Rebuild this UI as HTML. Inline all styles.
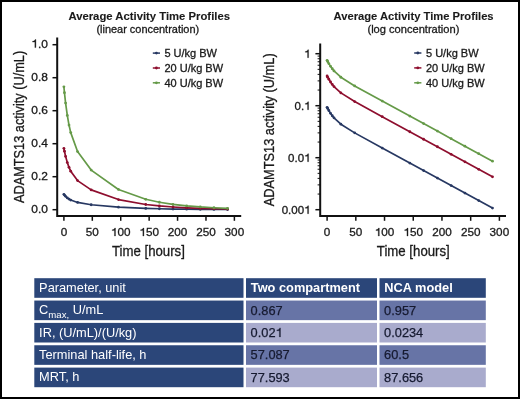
<!DOCTYPE html>
<html><head><meta charset="utf-8"><style>
html,body{margin:0;padding:0;width:520px;height:399px;overflow:hidden;background:#fff}
svg text{font-family:"Liberation Sans", sans-serif}
svg{will-change:transform}
</style></head><body>
<svg width="520" height="399" viewBox="0 0 520 399" style="position:absolute;left:0;top:0">
<rect x="0" y="0" width="520" height="399" fill="#000"/>
<rect x="2" y="2" width="516" height="395" fill="#fff"/>
<text x="149.20" y="19.70" font-size="11.3" text-anchor="middle" font-weight="bold" fill="#1a1a1a" stroke="#1a1a1a" stroke-width="0.1" >Average Activity Time Profiles</text>
<text x="147.80" y="33.40" font-size="10.95" text-anchor="middle" font-weight="normal" fill="#1a1a1a" stroke="#1a1a1a" stroke-width="0.3" >(linear concentration)</text>
<text x="413.60" y="19.70" font-size="11.2" text-anchor="middle" font-weight="bold" fill="#1a1a1a" stroke="#1a1a1a" stroke-width="0.1" >Average Activity Time Profiles</text>
<text x="413.40" y="33.40" font-size="11.1" text-anchor="middle" font-weight="normal" fill="#1a1a1a" stroke="#1a1a1a" stroke-width="0.3" >(log concentration)</text>
<path d="M57.2,37.4 V216.1 M56.2,216.1 H241.2" stroke="#111" stroke-width="2" fill="none"/>
<path d="M52.5,209.70 H57" stroke="#111" stroke-width="1.5"/>
<g transform="translate(47.90,212.60) scale(1.04,1)">
<text x="-15.99" y="0.00" font-size="11.5" text-anchor="start" font-weight="normal" fill="#1a1a1a" stroke="#1a1a1a" stroke-width="0.3" >0.0</text>
</g>
<path d="M52.5,176.70 H57" stroke="#111" stroke-width="1.5"/>
<g transform="translate(47.90,179.60) scale(1.04,1)">
<text x="-15.99" y="0.00" font-size="11.5" text-anchor="start" font-weight="normal" fill="#1a1a1a" stroke="#1a1a1a" stroke-width="0.3" >0.2</text>
</g>
<path d="M52.5,143.70 H57" stroke="#111" stroke-width="1.5"/>
<g transform="translate(47.90,146.60) scale(1.04,1)">
<text x="-15.99" y="0.00" font-size="11.5" text-anchor="start" font-weight="normal" fill="#1a1a1a" stroke="#1a1a1a" stroke-width="0.3" >0.4</text>
</g>
<path d="M52.5,110.70 H57" stroke="#111" stroke-width="1.5"/>
<g transform="translate(47.90,113.60) scale(1.04,1)">
<text x="-15.99" y="0.00" font-size="11.5" text-anchor="start" font-weight="normal" fill="#1a1a1a" stroke="#1a1a1a" stroke-width="0.3" >0.6</text>
</g>
<path d="M52.5,77.70 H57" stroke="#111" stroke-width="1.5"/>
<g transform="translate(47.90,80.60) scale(1.04,1)">
<text x="-15.99" y="0.00" font-size="11.5" text-anchor="start" font-weight="normal" fill="#1a1a1a" stroke="#1a1a1a" stroke-width="0.3" >0.8</text>
</g>
<path d="M52.5,44.70 H57" stroke="#111" stroke-width="1.5"/>
<g transform="translate(47.90,47.60) scale(1.04,1)">
<text x="-15.99" y="0.00" font-size="11.5" text-anchor="start" font-weight="normal" fill="#1a1a1a" stroke="#1a1a1a" stroke-width="0.3" > .0</text>
<path d="M-12.54,0.00 L-11.50,0.00 L-11.50,-8.08 L-12.28,-8.08 C-12.46,-7.36 -12.97,-6.46 -14.78,-6.30 L-14.78,-5.52 L-12.54,-5.52 Z" fill="#1a1a1a" stroke="#1a1a1a" stroke-width="0.3"/>
</g>
<path d="M63.90,216.1 V220.8" stroke="#111" stroke-width="1.5"/>
<g transform="translate(63.90,236.00) scale(1.04,1)">
<text x="-3.14" y="0.00" font-size="11.3" text-anchor="start" font-weight="normal" fill="#1a1a1a" stroke="#1a1a1a" stroke-width="0.3" >0</text>
</g>
<path d="M92.31,216.1 V220.8" stroke="#111" stroke-width="1.5"/>
<g transform="translate(92.31,236.00) scale(1.04,1)">
<text x="-6.28" y="0.00" font-size="11.3" text-anchor="start" font-weight="normal" fill="#1a1a1a" stroke="#1a1a1a" stroke-width="0.3" >50</text>
</g>
<path d="M120.73,216.1 V220.8" stroke="#111" stroke-width="1.5"/>
<g transform="translate(120.73,236.00) scale(1.04,1)">
<text x="-9.43" y="0.00" font-size="11.3" text-anchor="start" font-weight="normal" fill="#1a1a1a" stroke="#1a1a1a" stroke-width="0.3" > 00</text>
<path d="M-6.04,0.00 L-5.02,0.00 L-5.02,-7.94 L-5.79,-7.94 C-5.96,-7.23 -6.47,-6.35 -8.24,-6.19 L-8.24,-5.42 L-6.04,-5.42 Z" fill="#1a1a1a" stroke="#1a1a1a" stroke-width="0.3"/>
</g>
<path d="M149.15,216.1 V220.8" stroke="#111" stroke-width="1.5"/>
<g transform="translate(149.15,236.00) scale(1.04,1)">
<text x="-9.43" y="0.00" font-size="11.3" text-anchor="start" font-weight="normal" fill="#1a1a1a" stroke="#1a1a1a" stroke-width="0.3" > 50</text>
<path d="M-6.04,0.00 L-5.02,0.00 L-5.02,-7.94 L-5.79,-7.94 C-5.96,-7.23 -6.47,-6.35 -8.24,-6.19 L-8.24,-5.42 L-6.04,-5.42 Z" fill="#1a1a1a" stroke="#1a1a1a" stroke-width="0.3"/>
</g>
<path d="M177.56,216.1 V220.8" stroke="#111" stroke-width="1.5"/>
<g transform="translate(177.56,236.00) scale(1.04,1)">
<text x="-9.43" y="0.00" font-size="11.3" text-anchor="start" font-weight="normal" fill="#1a1a1a" stroke="#1a1a1a" stroke-width="0.3" >200</text>
</g>
<path d="M205.98,216.1 V220.8" stroke="#111" stroke-width="1.5"/>
<g transform="translate(205.98,236.00) scale(1.04,1)">
<text x="-9.43" y="0.00" font-size="11.3" text-anchor="start" font-weight="normal" fill="#1a1a1a" stroke="#1a1a1a" stroke-width="0.3" >250</text>
</g>
<path d="M234.39,216.1 V220.8" stroke="#111" stroke-width="1.5"/>
<g transform="translate(234.39,236.00) scale(1.04,1)">
<text x="-9.43" y="0.00" font-size="11.3" text-anchor="start" font-weight="normal" fill="#1a1a1a" stroke="#1a1a1a" stroke-width="0.3" >300</text>
</g>
<text x="0.00" y="0.00" font-size="14" text-anchor="middle" font-weight="normal" fill="#1a1a1a" stroke="#1a1a1a" stroke-width="0.3" transform="translate(148.4,255.9) scale(0.945,1)">Time [hours]</text>
<text x="0.00" y="0.00" font-size="14" text-anchor="middle" font-weight="normal" fill="#1a1a1a" stroke="#1a1a1a" stroke-width="0.3" transform="translate(23.5,126.9) rotate(-90) scale(0.91,1)">ADAMTS13 activity (U/mL)</text>
<path d="M320.2,43.4 V216.1 M319.2,216.1 H506" stroke="#111" stroke-width="2" fill="none"/>
<path d="M315.4,53.70 H320.2" stroke="#111" stroke-width="1.5"/>
<g transform="translate(310.50,57.70) scale(1.02,1)">
<text x="-6.28" y="0.00" font-size="11.3" text-anchor="start" font-weight="normal" fill="#1a1a1a" stroke="#1a1a1a" stroke-width="0.3" > </text>
<path d="M-2.89,0.00 L-1.88,0.00 L-1.88,-7.94 L-2.65,-7.94 C-2.82,-7.23 -3.32,-6.35 -5.10,-6.19 L-5.10,-5.42 L-2.89,-5.42 Z" fill="#1a1a1a" stroke="#1a1a1a" stroke-width="0.3"/>
</g>
<path d="M317.6,90.05 H320.2" stroke="#111" stroke-width="1"/>
<path d="M317.6,80.89 H320.2" stroke="#111" stroke-width="1"/>
<path d="M317.6,74.39 H320.2" stroke="#111" stroke-width="1"/>
<path d="M317.6,69.35 H320.2" stroke="#111" stroke-width="1"/>
<path d="M317.6,65.24 H320.2" stroke="#111" stroke-width="1"/>
<path d="M317.6,61.75 H320.2" stroke="#111" stroke-width="1"/>
<path d="M317.6,58.74 H320.2" stroke="#111" stroke-width="1"/>
<path d="M317.6,56.08 H320.2" stroke="#111" stroke-width="1"/>
<path d="M315.4,105.70 H320.2" stroke="#111" stroke-width="1.5"/>
<g transform="translate(310.50,109.70) scale(1.02,1)">
<text x="-15.71" y="0.00" font-size="11.3" text-anchor="start" font-weight="normal" fill="#1a1a1a" stroke="#1a1a1a" stroke-width="0.3" >0. </text>
<path d="M-2.89,0.00 L-1.88,0.00 L-1.88,-7.94 L-2.65,-7.94 C-2.82,-7.23 -3.32,-6.35 -5.10,-6.19 L-5.10,-5.42 L-2.89,-5.42 Z" fill="#1a1a1a" stroke="#1a1a1a" stroke-width="0.3"/>
</g>
<path d="M317.6,142.05 H320.2" stroke="#111" stroke-width="1"/>
<path d="M317.6,132.89 H320.2" stroke="#111" stroke-width="1"/>
<path d="M317.6,126.39 H320.2" stroke="#111" stroke-width="1"/>
<path d="M317.6,121.35 H320.2" stroke="#111" stroke-width="1"/>
<path d="M317.6,117.24 H320.2" stroke="#111" stroke-width="1"/>
<path d="M317.6,113.75 H320.2" stroke="#111" stroke-width="1"/>
<path d="M317.6,110.74 H320.2" stroke="#111" stroke-width="1"/>
<path d="M317.6,108.08 H320.2" stroke="#111" stroke-width="1"/>
<path d="M315.4,157.70 H320.2" stroke="#111" stroke-width="1.5"/>
<g transform="translate(310.50,161.70) scale(1.02,1)">
<text x="-21.99" y="0.00" font-size="11.3" text-anchor="start" font-weight="normal" fill="#1a1a1a" stroke="#1a1a1a" stroke-width="0.3" >0.0 </text>
<path d="M-2.89,0.00 L-1.88,0.00 L-1.88,-7.94 L-2.65,-7.94 C-2.82,-7.23 -3.32,-6.35 -5.10,-6.19 L-5.10,-5.42 L-2.89,-5.42 Z" fill="#1a1a1a" stroke="#1a1a1a" stroke-width="0.3"/>
</g>
<path d="M317.6,194.05 H320.2" stroke="#111" stroke-width="1"/>
<path d="M317.6,184.89 H320.2" stroke="#111" stroke-width="1"/>
<path d="M317.6,178.39 H320.2" stroke="#111" stroke-width="1"/>
<path d="M317.6,173.35 H320.2" stroke="#111" stroke-width="1"/>
<path d="M317.6,169.24 H320.2" stroke="#111" stroke-width="1"/>
<path d="M317.6,165.75 H320.2" stroke="#111" stroke-width="1"/>
<path d="M317.6,162.74 H320.2" stroke="#111" stroke-width="1"/>
<path d="M317.6,160.08 H320.2" stroke="#111" stroke-width="1"/>
<path d="M315.4,209.70 H320.2" stroke="#111" stroke-width="1.5"/>
<g transform="translate(310.50,213.70) scale(1.02,1)">
<text x="-28.28" y="0.00" font-size="11.3" text-anchor="start" font-weight="normal" fill="#1a1a1a" stroke="#1a1a1a" stroke-width="0.3" >0.00 </text>
<path d="M-2.89,0.00 L-1.88,0.00 L-1.88,-7.94 L-2.65,-7.94 C-2.82,-7.23 -3.32,-6.35 -5.10,-6.19 L-5.10,-5.42 L-2.89,-5.42 Z" fill="#1a1a1a" stroke="#1a1a1a" stroke-width="0.3"/>
</g>
<path d="M327.10,216.1 V220.8" stroke="#111" stroke-width="1.5"/>
<g transform="translate(327.10,236.00) scale(1.04,1)">
<text x="-3.14" y="0.00" font-size="11.3" text-anchor="start" font-weight="normal" fill="#1a1a1a" stroke="#1a1a1a" stroke-width="0.3" >0</text>
</g>
<path d="M355.82,216.1 V220.8" stroke="#111" stroke-width="1.5"/>
<g transform="translate(355.82,236.00) scale(1.04,1)">
<text x="-6.28" y="0.00" font-size="11.3" text-anchor="start" font-weight="normal" fill="#1a1a1a" stroke="#1a1a1a" stroke-width="0.3" >50</text>
</g>
<path d="M384.53,216.1 V220.8" stroke="#111" stroke-width="1.5"/>
<g transform="translate(384.53,236.00) scale(1.04,1)">
<text x="-9.43" y="0.00" font-size="11.3" text-anchor="start" font-weight="normal" fill="#1a1a1a" stroke="#1a1a1a" stroke-width="0.3" > 00</text>
<path d="M-6.04,0.00 L-5.02,0.00 L-5.02,-7.94 L-5.79,-7.94 C-5.96,-7.23 -6.47,-6.35 -8.24,-6.19 L-8.24,-5.42 L-6.04,-5.42 Z" fill="#1a1a1a" stroke="#1a1a1a" stroke-width="0.3"/>
</g>
<path d="M413.25,216.1 V220.8" stroke="#111" stroke-width="1.5"/>
<g transform="translate(413.25,236.00) scale(1.04,1)">
<text x="-9.43" y="0.00" font-size="11.3" text-anchor="start" font-weight="normal" fill="#1a1a1a" stroke="#1a1a1a" stroke-width="0.3" > 50</text>
<path d="M-6.04,0.00 L-5.02,0.00 L-5.02,-7.94 L-5.79,-7.94 C-5.96,-7.23 -6.47,-6.35 -8.24,-6.19 L-8.24,-5.42 L-6.04,-5.42 Z" fill="#1a1a1a" stroke="#1a1a1a" stroke-width="0.3"/>
</g>
<path d="M441.96,216.1 V220.8" stroke="#111" stroke-width="1.5"/>
<g transform="translate(441.96,236.00) scale(1.04,1)">
<text x="-9.43" y="0.00" font-size="11.3" text-anchor="start" font-weight="normal" fill="#1a1a1a" stroke="#1a1a1a" stroke-width="0.3" >200</text>
</g>
<path d="M470.68,216.1 V220.8" stroke="#111" stroke-width="1.5"/>
<g transform="translate(470.68,236.00) scale(1.04,1)">
<text x="-9.43" y="0.00" font-size="11.3" text-anchor="start" font-weight="normal" fill="#1a1a1a" stroke="#1a1a1a" stroke-width="0.3" >250</text>
</g>
<path d="M499.39,216.1 V220.8" stroke="#111" stroke-width="1.5"/>
<g transform="translate(499.39,236.00) scale(1.04,1)">
<text x="-9.43" y="0.00" font-size="11.3" text-anchor="start" font-weight="normal" fill="#1a1a1a" stroke="#1a1a1a" stroke-width="0.3" >300</text>
</g>
<text x="0.00" y="0.00" font-size="14" text-anchor="middle" font-weight="normal" fill="#1a1a1a" stroke="#1a1a1a" stroke-width="0.3" transform="translate(413.3,255.9) scale(0.945,1)">Time [hours]</text>
<text x="0.00" y="0.00" font-size="14" text-anchor="middle" font-weight="normal" fill="#1a1a1a" stroke="#1a1a1a" stroke-width="0.3" transform="translate(274.1,129.8) rotate(-90) scale(0.915,1)">ADAMTS13 activity (U/mL)</text>
<polyline points="63.90,194.35 64.47,195.08 65.60,196.37 67.31,197.92 69.01,199.12 70.72,200.06 77.54,202.43 91.18,204.75 118.46,207.17 145.74,208.40 159.37,208.77 173.01,209.03 186.65,209.22 200.29,209.36 213.93,209.45 227.57,209.52" fill="none" stroke="#273862" stroke-width="1.7" stroke-linejoin="round"/>
<circle cx="63.90" cy="194.35" r="1.4" fill="#273862"/>
<circle cx="64.47" cy="195.08" r="1.4" fill="#273862"/>
<circle cx="65.60" cy="196.37" r="1.4" fill="#273862"/>
<circle cx="67.31" cy="197.92" r="1.4" fill="#273862"/>
<circle cx="69.01" cy="199.12" r="1.4" fill="#273862"/>
<circle cx="70.72" cy="200.06" r="1.4" fill="#273862"/>
<circle cx="77.54" cy="202.43" r="1.4" fill="#273862"/>
<circle cx="91.18" cy="204.75" r="1.4" fill="#273862"/>
<circle cx="118.46" cy="207.17" r="1.4" fill="#273862"/>
<circle cx="145.74" cy="208.40" r="1.4" fill="#273862"/>
<circle cx="159.37" cy="208.77" r="1.4" fill="#273862"/>
<circle cx="173.01" cy="209.03" r="1.4" fill="#273862"/>
<circle cx="186.65" cy="209.22" r="1.4" fill="#273862"/>
<circle cx="200.29" cy="209.36" r="1.4" fill="#273862"/>
<circle cx="213.93" cy="209.45" r="1.4" fill="#273862"/>
<circle cx="227.57" cy="209.52" r="1.4" fill="#273862"/>
<polyline points="327.10,107.32 327.67,108.44 328.82,110.52 330.55,113.30 332.27,115.73 333.99,117.85 340.88,124.21 354.67,132.87 382.23,148.03 409.80,163.05 423.58,170.56 437.37,178.08 451.15,185.59 464.93,193.10 478.72,200.61 492.50,208.12" fill="none" stroke="#273862" stroke-width="1.7" stroke-linejoin="round"/>
<circle cx="327.10" cy="107.32" r="1.4" fill="#273862"/>
<circle cx="327.67" cy="108.44" r="1.4" fill="#273862"/>
<circle cx="328.82" cy="110.52" r="1.4" fill="#273862"/>
<circle cx="330.55" cy="113.30" r="1.4" fill="#273862"/>
<circle cx="332.27" cy="115.73" r="1.4" fill="#273862"/>
<circle cx="333.99" cy="117.85" r="1.4" fill="#273862"/>
<circle cx="340.88" cy="124.21" r="1.4" fill="#273862"/>
<circle cx="354.67" cy="132.87" r="1.4" fill="#273862"/>
<circle cx="382.23" cy="148.03" r="1.4" fill="#273862"/>
<circle cx="409.80" cy="163.05" r="1.4" fill="#273862"/>
<circle cx="423.58" cy="170.56" r="1.4" fill="#273862"/>
<circle cx="437.37" cy="178.08" r="1.4" fill="#273862"/>
<circle cx="451.15" cy="185.59" r="1.4" fill="#273862"/>
<circle cx="464.93" cy="193.10" r="1.4" fill="#273862"/>
<circle cx="478.72" cy="200.61" r="1.4" fill="#273862"/>
<circle cx="492.50" cy="208.12" r="1.4" fill="#273862"/>
<polyline points="63.90,148.28 64.47,151.23 65.60,156.38 67.31,162.57 69.01,167.37 70.72,171.15 77.54,180.61 91.18,189.89 118.46,199.57 145.74,204.49 159.37,205.97 173.01,207.02 186.65,207.78 200.29,208.32 213.93,208.71 227.57,208.99" fill="none" stroke="#8e0e2e" stroke-width="1.7" stroke-linejoin="round"/>
<circle cx="63.90" cy="148.28" r="1.4" fill="#8e0e2e"/>
<circle cx="64.47" cy="151.23" r="1.4" fill="#8e0e2e"/>
<circle cx="65.60" cy="156.38" r="1.4" fill="#8e0e2e"/>
<circle cx="67.31" cy="162.57" r="1.4" fill="#8e0e2e"/>
<circle cx="69.01" cy="167.37" r="1.4" fill="#8e0e2e"/>
<circle cx="70.72" cy="171.15" r="1.4" fill="#8e0e2e"/>
<circle cx="77.54" cy="180.61" r="1.4" fill="#8e0e2e"/>
<circle cx="91.18" cy="189.89" r="1.4" fill="#8e0e2e"/>
<circle cx="118.46" cy="199.57" r="1.4" fill="#8e0e2e"/>
<circle cx="145.74" cy="204.49" r="1.4" fill="#8e0e2e"/>
<circle cx="159.37" cy="205.97" r="1.4" fill="#8e0e2e"/>
<circle cx="173.01" cy="207.02" r="1.4" fill="#8e0e2e"/>
<circle cx="186.65" cy="207.78" r="1.4" fill="#8e0e2e"/>
<circle cx="200.29" cy="208.32" r="1.4" fill="#8e0e2e"/>
<circle cx="213.93" cy="208.71" r="1.4" fill="#8e0e2e"/>
<circle cx="227.57" cy="208.99" r="1.4" fill="#8e0e2e"/>
<polyline points="327.10,76.02 327.67,77.13 328.82,79.21 330.55,82.00 332.27,84.42 333.99,86.54 340.88,92.90 354.67,101.57 382.23,116.72 409.80,131.74 423.58,139.26 437.37,146.77 451.15,154.28 464.93,161.79 478.72,169.30 492.50,176.82" fill="none" stroke="#8e0e2e" stroke-width="1.7" stroke-linejoin="round"/>
<circle cx="327.10" cy="76.02" r="1.4" fill="#8e0e2e"/>
<circle cx="327.67" cy="77.13" r="1.4" fill="#8e0e2e"/>
<circle cx="328.82" cy="79.21" r="1.4" fill="#8e0e2e"/>
<circle cx="330.55" cy="82.00" r="1.4" fill="#8e0e2e"/>
<circle cx="332.27" cy="84.42" r="1.4" fill="#8e0e2e"/>
<circle cx="333.99" cy="86.54" r="1.4" fill="#8e0e2e"/>
<circle cx="340.88" cy="92.90" r="1.4" fill="#8e0e2e"/>
<circle cx="354.67" cy="101.57" r="1.4" fill="#8e0e2e"/>
<circle cx="382.23" cy="116.72" r="1.4" fill="#8e0e2e"/>
<circle cx="409.80" cy="131.74" r="1.4" fill="#8e0e2e"/>
<circle cx="423.58" cy="139.26" r="1.4" fill="#8e0e2e"/>
<circle cx="437.37" cy="146.77" r="1.4" fill="#8e0e2e"/>
<circle cx="451.15" cy="154.28" r="1.4" fill="#8e0e2e"/>
<circle cx="464.93" cy="161.79" r="1.4" fill="#8e0e2e"/>
<circle cx="478.72" cy="169.30" r="1.4" fill="#8e0e2e"/>
<circle cx="492.50" cy="176.82" r="1.4" fill="#8e0e2e"/>
<polyline points="63.90,86.86 64.47,92.77 65.60,103.07 67.31,115.44 69.01,125.04 70.72,132.61 77.54,151.53 91.18,170.07 118.46,189.44 145.74,199.28 159.37,202.23 173.01,204.35 186.65,205.86 200.29,206.95 213.93,207.73 227.57,208.28" fill="none" stroke="#659a48" stroke-width="1.7" stroke-linejoin="round"/>
<circle cx="63.90" cy="86.86" r="1.4" fill="#659a48"/>
<circle cx="64.47" cy="92.77" r="1.4" fill="#659a48"/>
<circle cx="65.60" cy="103.07" r="1.4" fill="#659a48"/>
<circle cx="67.31" cy="115.44" r="1.4" fill="#659a48"/>
<circle cx="69.01" cy="125.04" r="1.4" fill="#659a48"/>
<circle cx="70.72" cy="132.61" r="1.4" fill="#659a48"/>
<circle cx="77.54" cy="151.53" r="1.4" fill="#659a48"/>
<circle cx="91.18" cy="170.07" r="1.4" fill="#659a48"/>
<circle cx="118.46" cy="189.44" r="1.4" fill="#659a48"/>
<circle cx="145.74" cy="199.28" r="1.4" fill="#659a48"/>
<circle cx="159.37" cy="202.23" r="1.4" fill="#659a48"/>
<circle cx="173.01" cy="204.35" r="1.4" fill="#659a48"/>
<circle cx="186.65" cy="205.86" r="1.4" fill="#659a48"/>
<circle cx="200.29" cy="206.95" r="1.4" fill="#659a48"/>
<circle cx="213.93" cy="207.73" r="1.4" fill="#659a48"/>
<circle cx="227.57" cy="208.28" r="1.4" fill="#659a48"/>
<polyline points="327.10,60.36 327.67,61.48 328.82,63.56 330.55,66.34 332.27,68.77 333.99,70.89 340.88,77.24 354.67,85.91 382.23,101.06 409.80,116.09 423.58,123.60 437.37,131.11 451.15,138.63 464.93,146.14 478.72,153.65 492.50,161.16" fill="none" stroke="#659a48" stroke-width="1.7" stroke-linejoin="round"/>
<circle cx="327.10" cy="60.36" r="1.4" fill="#659a48"/>
<circle cx="327.67" cy="61.48" r="1.4" fill="#659a48"/>
<circle cx="328.82" cy="63.56" r="1.4" fill="#659a48"/>
<circle cx="330.55" cy="66.34" r="1.4" fill="#659a48"/>
<circle cx="332.27" cy="68.77" r="1.4" fill="#659a48"/>
<circle cx="333.99" cy="70.89" r="1.4" fill="#659a48"/>
<circle cx="340.88" cy="77.24" r="1.4" fill="#659a48"/>
<circle cx="354.67" cy="85.91" r="1.4" fill="#659a48"/>
<circle cx="382.23" cy="101.06" r="1.4" fill="#659a48"/>
<circle cx="409.80" cy="116.09" r="1.4" fill="#659a48"/>
<circle cx="423.58" cy="123.60" r="1.4" fill="#659a48"/>
<circle cx="437.37" cy="131.11" r="1.4" fill="#659a48"/>
<circle cx="451.15" cy="138.63" r="1.4" fill="#659a48"/>
<circle cx="464.93" cy="146.14" r="1.4" fill="#659a48"/>
<circle cx="478.72" cy="153.65" r="1.4" fill="#659a48"/>
<circle cx="492.50" cy="161.16" r="1.4" fill="#659a48"/>
<path d="M152.8,53.1 H160.0" stroke="#273862" stroke-width="1.5"/>
<circle cx="156.4" cy="53.1" r="1.4" fill="#273862"/>
<text x="164.40" y="57.00" font-size="11" text-anchor="start" font-weight="normal" fill="#1a1a1a" stroke="#1a1a1a" stroke-width="0.3" >5 U/kg BW</text>
<path d="M152.8,68.0 H160.0" stroke="#8e0e2e" stroke-width="1.5"/>
<circle cx="156.4" cy="68.0" r="1.4" fill="#8e0e2e"/>
<text x="164.40" y="71.90" font-size="11" text-anchor="start" font-weight="normal" fill="#1a1a1a" stroke="#1a1a1a" stroke-width="0.3" >20 U/kg BW</text>
<path d="M152.8,82.8 H160.0" stroke="#659a48" stroke-width="1.5"/>
<circle cx="156.4" cy="82.8" r="1.4" fill="#659a48"/>
<text x="164.40" y="86.70" font-size="11" text-anchor="start" font-weight="normal" fill="#1a1a1a" stroke="#1a1a1a" stroke-width="0.3" >40 U/kg BW</text>
<path d="M414.2,53 H421.4" stroke="#273862" stroke-width="1.5"/>
<circle cx="417.8" cy="53" r="1.4" fill="#273862"/>
<text x="426.00" y="56.90" font-size="11" text-anchor="start" font-weight="normal" fill="#1a1a1a" stroke="#1a1a1a" stroke-width="0.3" >5 U/kg BW</text>
<path d="M414.2,67.9 H421.4" stroke="#8e0e2e" stroke-width="1.5"/>
<circle cx="417.8" cy="67.9" r="1.4" fill="#8e0e2e"/>
<text x="426.00" y="71.80" font-size="11" text-anchor="start" font-weight="normal" fill="#1a1a1a" stroke="#1a1a1a" stroke-width="0.3" >20 U/kg BW</text>
<path d="M414.2,82.8 H421.4" stroke="#659a48" stroke-width="1.5"/>
<circle cx="417.8" cy="82.8" r="1.4" fill="#659a48"/>
<text x="426.00" y="86.70" font-size="11" text-anchor="start" font-weight="normal" fill="#1a1a1a" stroke="#1a1a1a" stroke-width="0.3" >40 U/kg BW</text>
<rect x="34.3" y="278.2" width="209.20" height="19.60" fill="#2b4679"/>
<text x="39.10" y="291.90" font-size="12.8" text-anchor="start" font-weight="normal" fill="#fff" >Parameter, unit</text>
<rect x="246" y="278.2" width="131.00" height="19.60" fill="#2b4679"/>
<text x="250.80" y="291.90" font-size="12.8" text-anchor="start" font-weight="bold" fill="#fff" >Two compartment</text>
<rect x="379.5" y="278.2" width="106.30" height="19.60" fill="#2b4679"/>
<text x="384.30" y="291.90" font-size="12.8" text-anchor="start" font-weight="bold" fill="#fff" >NCA model</text>
<rect x="34.3" y="300.55" width="209.20" height="19.60" fill="#2b4679"/>
<text x="39.10" y="314.25" font-size="12.8" text-anchor="start" font-weight="normal" fill="#fff" >C<tspan font-size="9.6" dy="3.6">max,</tspan><tspan dy="-3.6"> U/mL</tspan></text>
<rect x="246" y="300.55" width="131.00" height="19.60" fill="#6774a6"/>
<g transform="translate(250.60,314.55) scale(1.0,1)">
<text x="0.00" y="0.00" font-size="12.8" text-anchor="start" font-weight="normal" fill="#161a30" stroke="#161a30" stroke-width="0.25" >0.867</text>
</g>
<rect x="379.5" y="300.55" width="106.30" height="19.60" fill="#6774a6"/>
<g transform="translate(384.10,314.55) scale(1.0,1)">
<text x="0.00" y="0.00" font-size="12.8" text-anchor="start" font-weight="normal" fill="#161a30" stroke="#161a30" stroke-width="0.25" >0.957</text>
</g>
<rect x="34.3" y="322.9" width="209.20" height="19.60" fill="#2b4679"/>
<text x="39.10" y="336.60" font-size="12.8" text-anchor="start" font-weight="normal" fill="#fff" >IR, (U/mL)/(U/kg)</text>
<rect x="246" y="322.9" width="131.00" height="19.60" fill="#a9abcd"/>
<g transform="translate(250.60,336.90) scale(1.0,1)">
<text x="0.00" y="0.00" font-size="12.8" text-anchor="start" font-weight="normal" fill="#161a30" stroke="#161a30" stroke-width="0.25" >0.02 </text>
<path d="M28.75,0.00 L29.90,0.00 L29.90,-9.00 L29.03,-9.00 C28.84,-8.19 28.27,-7.19 26.26,-7.01 L26.26,-6.14 L28.75,-6.14 Z" fill="#161a30" stroke="#161a30" stroke-width="0.25"/>
</g>
<rect x="379.5" y="322.9" width="106.30" height="19.60" fill="#a9abcd"/>
<g transform="translate(384.10,336.90) scale(1.0,1)">
<text x="0.00" y="0.00" font-size="12.8" text-anchor="start" font-weight="normal" fill="#161a30" stroke="#161a30" stroke-width="0.25" >0.0234</text>
</g>
<rect x="34.3" y="345.25" width="209.20" height="19.60" fill="#2b4679"/>
<text x="39.10" y="358.95" font-size="12.8" text-anchor="start" font-weight="normal" fill="#fff" >Terminal half-life, h</text>
<rect x="246" y="345.25" width="131.00" height="19.60" fill="#6774a6"/>
<g transform="translate(250.60,359.25) scale(1.0,1)">
<text x="0.00" y="0.00" font-size="12.8" text-anchor="start" font-weight="normal" fill="#161a30" stroke="#161a30" stroke-width="0.25" >57.087</text>
</g>
<rect x="379.5" y="345.25" width="106.30" height="19.60" fill="#6774a6"/>
<g transform="translate(384.10,359.25) scale(1.0,1)">
<text x="0.00" y="0.00" font-size="12.8" text-anchor="start" font-weight="normal" fill="#161a30" stroke="#161a30" stroke-width="0.25" >60.5</text>
</g>
<rect x="34.3" y="367.6" width="209.20" height="19.60" fill="#2b4679"/>
<text x="39.10" y="381.30" font-size="12.8" text-anchor="start" font-weight="normal" fill="#fff" >MRT, h</text>
<rect x="246" y="367.6" width="131.00" height="19.60" fill="#a9abcd"/>
<g transform="translate(250.60,381.60) scale(1.0,1)">
<text x="0.00" y="0.00" font-size="12.8" text-anchor="start" font-weight="normal" fill="#161a30" stroke="#161a30" stroke-width="0.25" >77.593</text>
</g>
<rect x="379.5" y="367.6" width="106.30" height="19.60" fill="#a9abcd"/>
<g transform="translate(384.10,381.60) scale(1.0,1)">
<text x="0.00" y="0.00" font-size="12.8" text-anchor="start" font-weight="normal" fill="#161a30" stroke="#161a30" stroke-width="0.25" >87.656</text>
</g>
</svg>
</body></html>
